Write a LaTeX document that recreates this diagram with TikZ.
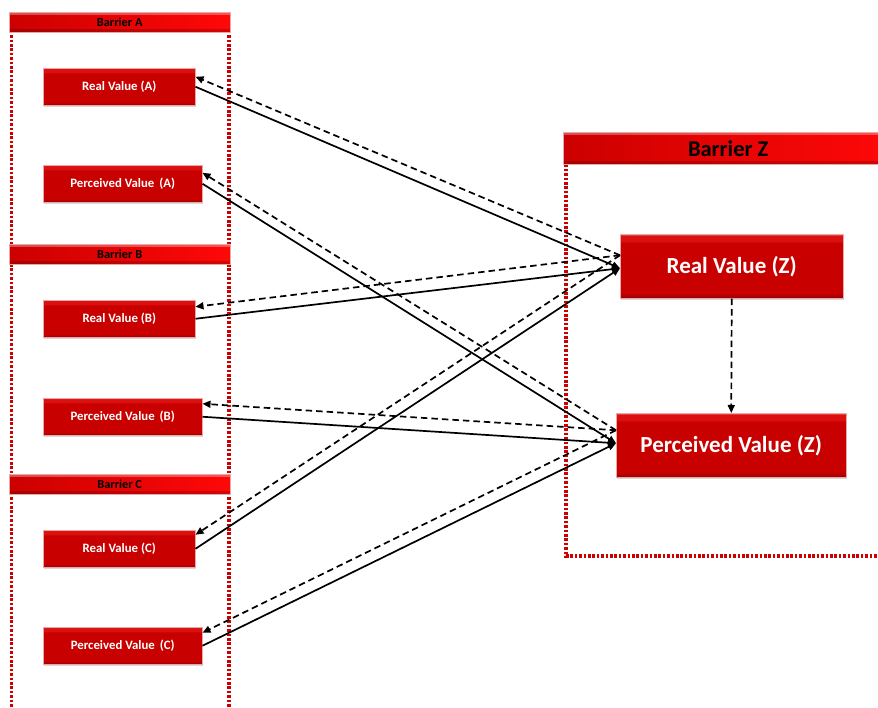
\documentclass[tikz,border=0pt]{standalone}
\usepackage{fontspec}
\setmainfont{Carlito}
\usetikzlibrary{arrows.meta,shadows}
\definecolor{boxred}{HTML}{C80000}
\definecolor{boxdark}{HTML}{980000}
\definecolor{boxbright}{HTML}{DD1010}
\definecolor{boxlight}{HTML}{EE8080}
\definecolor{boxedge}{HTML}{E8A8A8}
\definecolor{hdrleft}{HTML}{CC0000}
\definecolor{hdrright}{HTML}{FF0808}
\definecolor{dotred}{HTML}{CC0000}
\pgfdeclareverticalshading{boxshade}{100bp}{color(0bp)=(boxdark); color(25bp)=(boxdark); color(29bp)=(boxred); color(68bp)=(boxred); color(70bp)=(boxbright); color(74bp)=(boxbright); color(75bp)=(boxlight); color(100bp)=(boxlight)}
\tikzset{
  valbox/.style={draw=boxedge, line width=0.5pt, shading=boxshade, text=white,
    inner sep=0pt, anchor=north west,
    drop shadow={shadow xshift=1.2pt, shadow yshift=-1.4pt, opacity=0.3}},
  smallbox/.style={valbox, minimum height=37pt, font=\fontsize{12.8}{14}\selectfont\bfseries},
  bigbox/.style={valbox, minimum height=64pt, font=\fontsize{23}{26}\selectfont\bfseries},
  hdr/.style={draw=boxedge, line width=0.4pt, left color=hdrleft, right color=hdrright,
    inner sep=0pt, anchor=north west, text=black,
    path picture={
      \fill[white,opacity=0.3] (path picture bounding box.north west) rectangle ([yshift=-3pt]path picture bounding box.north east);
      \fill[black,opacity=0.18] (path picture bounding box.south west) rectangle ([yshift=3pt]path picture bounding box.south east);
    }},
  dotline/.style={draw=dotred, line width=3.2pt, dash pattern=on 2.6pt off 1.8pt},
  solidarr/.style={draw=black, line width=1.7pt, -{Triangle[length=8pt,width=7pt]}},
  dasharr/.style={draw=black, line width=1.7pt, dash pattern=on 6.5pt off 4pt, -{Triangle[length=8pt,width=7pt]}}
}
\begin{document}
\begin{tikzpicture}[x=1pt,y=-1pt]
\useasboundingbox (0,0) rectangle (878,707);
\fill[white] (0,0) rectangle (878,707);
% dotted frames
\coordinate (lt1) at (11.5,22); \coordinate (lb1) at (11.5,707);
\coordinate (lt2) at (229,22); \coordinate (lb2) at (229,707);
\draw[dotline] (lt1) -- (lb1);
\draw[dotline] (lt2) -- (lb2);
\coordinate (zt) at (566,160); \coordinate (zc) at (566,556); \coordinate (zr) at (878,556);
\draw[dotline] (zt) -- (zc) -- (zr);
% headers
\node[hdr, minimum width=221pt, minimum height=20pt, font=\fontsize{12.3}{14}\selectfont\bfseries] (ha) at (9,12) {Barrier A};
\node[hdr, minimum width=221pt, minimum height=20pt, font=\fontsize{12.3}{14}\selectfont\bfseries] (hb) at (9,244) {Barrier B};
\node[hdr, minimum width=221pt, minimum height=20pt, font=\fontsize{12.3}{14}\selectfont\bfseries] (hc) at (9,474) {Barrier C};
\node[hdr, minimum width=330pt, minimum height=32pt, font=\fontsize{22.5}{26}\selectfont\bfseries] (hz) at (563,132) {Barrier Z};
% value boxes
\node[smallbox, minimum width=152pt] (ra) at (43,68) {Real Value (A)};
\node[smallbox, minimum width=159pt] (pa) at (43,165) {Perceived Value\,\ (A)};
\node[smallbox, minimum width=152pt] (rb) at (43,300) {Real Value (B)};
\node[smallbox, minimum width=159pt] (pb) at (43,398) {Perceived Value\,\ (B)};
\node[smallbox, minimum width=152pt] (rc) at (43,530) {Real Value (C)};
\node[smallbox, minimum width=159pt] (pc) at (43,627) {Perceived Value\,\ (C)};
\node[bigbox, minimum width=223pt] (rz) at (620,234) {Real Value (Z)};
\node[bigbox, minimum width=230pt] (pz) at (616,413) {Perceived Value (Z)};
% connectors
\draw[solidarr] (ra.east) -- ([yshift=-2pt]rz.west);
\draw[dasharr] ([yshift=11pt]rz.west) -- ([yshift=10pt]ra.east);
\draw[solidarr] (pa.east) -- ([yshift=2pt]pz.west);
\draw[dasharr] ([yshift=15pt]pz.west) -- ([yshift=11pt]pa.east);
\draw[solidarr] (rb.east) -- ([yshift=-2pt]rz.west);
\draw[dasharr] ([yshift=11pt]rz.west) -- ([yshift=12pt]rb.east);
\draw[solidarr] (pb.east) -- ([yshift=2pt]pz.west);
\draw[dasharr] ([yshift=15pt]pz.west) -- ([yshift=13pt]pb.east);
\draw[solidarr] (rc.east) -- ([yshift=-2pt]rz.west);
\draw[dasharr] ([yshift=11pt]rz.west) -- ([yshift=14pt]rc.east);
\draw[solidarr] (pc.east) -- ([yshift=2pt]pz.west);
\draw[dasharr] ([yshift=15pt]pz.west) -- ([yshift=13pt]pc.east);
\draw[dasharr] (rz.south) -- (pz.north);
\end{tikzpicture}
\end{document}
